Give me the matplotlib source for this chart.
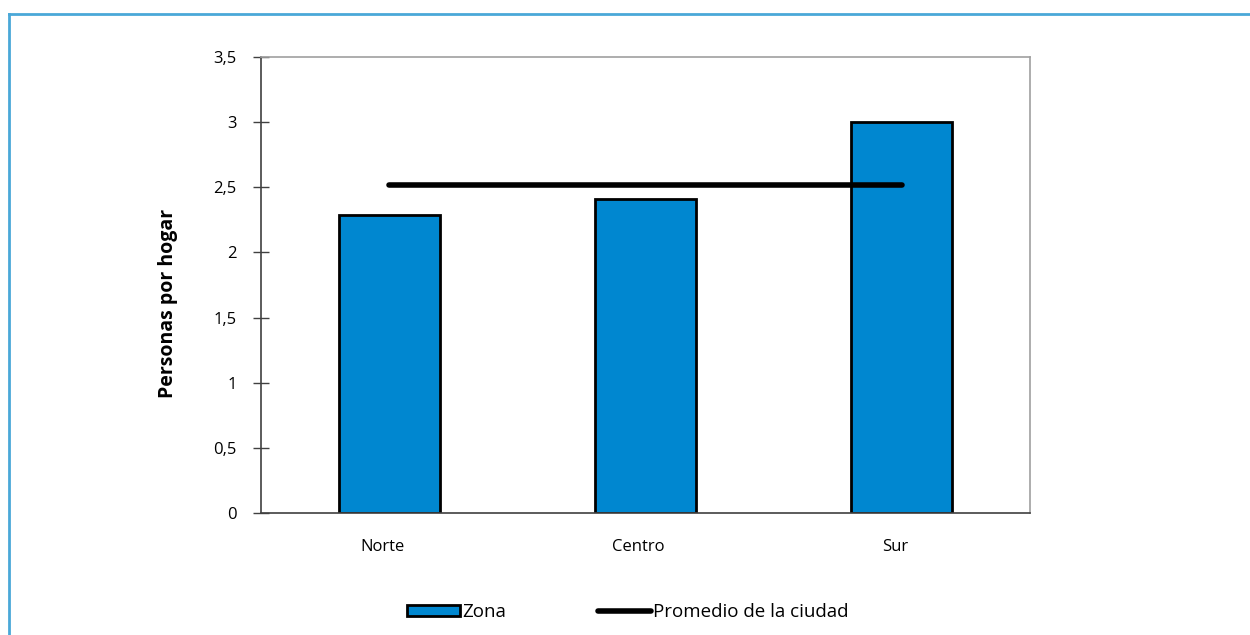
import matplotlib
matplotlib.use('Agg')
import matplotlib.pyplot as plt
import matplotlib.transforms as mtransforms
from matplotlib.lines import Line2D
from matplotlib.patches import Patch

zonas = ['Norte', 'Centro', 'Sur']
personas = [2.29, 2.41, 3.0]
promedio = 2.52
yticks = [0, 0.5, 1, 1.5, 2, 2.5, 3, 3.5]
ytick_labels = ['0', '0,5', '1', '1,5', '2', '2,5', '3', '3,5']

plt.rcParams['font.family'] = ['Open Sans', 'DejaVu Sans']

fig = plt.figure(figsize=(12.5, 6.35), dpi=100)
ax = fig.add_axes([261/1250, 1 - 513/635, 769/1250, 456/635])

x = range(len(zonas))
ax.bar(x, personas, width=0.395, color='#0087d0', edgecolor='black', linewidth=2, zorder=2)
ax.plot([0, len(zonas) - 1], [promedio, promedio], color='black', linewidth=4,
        solid_capstyle='round', zorder=3)

ax.set_xlim(-0.5, 2.5)
ax.set_ylim(0, 3.5)
ax.set_yticks(yticks)
ax.set_yticklabels(ytick_labels, fontsize=12)
ax.set_xticks(list(x))
ax.set_xticklabels(zonas, fontsize=12)
ax.tick_params(axis='x', length=0, pad=19)
ax.tick_params(axis='y', direction='inout', length=11, width=1, color='#404040', pad=12)
# las etiquetas del eje x van un poco a la izquierda del centro de la barra
shift = mtransforms.ScaledTranslation(-7/100, 0, fig.dpi_scale_trans)
for lab in ax.get_xticklabels():
    lab.set_transform(lab.get_transform() + shift)

ax.set_ylabel('Personas por hogar', fontsize=14, fontweight='bold')
ax.yaxis.set_label_coords(-0.108, 0.46)

for s in ['left', 'bottom']:
    ax.spines[s].set_color('#404040')
    ax.spines[s].set_linewidth(1.2)
for s in ['top', 'right']:
    ax.spines[s].set_color('#a0a0a0')
    ax.spines[s].set_linewidth(1.2)

handles = [Patch(facecolor='#0087d0', edgecolor='black', linewidth=2),
           Line2D([0], [0], color='black', linewidth=4, solid_capstyle='round')]
fig.legend(handles, ['Zona', 'Promedio de la ciudad'], loc='center',
           bbox_to_anchor=(628/1250, 1 - 612/635), ncol=2, frameon=False,
           fontsize=13.5, handlelength=2.8, handletextpad=0.15, columnspacing=4.9,
           handleheight=0.5)

# marco azul del recuadro
fig.add_artist(Line2D([9/1250, 9/1250], [0, 1 - 14/635], color='#4aa8d8', linewidth=2,
                      transform=fig.transFigure))
fig.add_artist(Line2D([9/1250, 1], [1 - 14/635, 1 - 14/635], color='#4aa8d8', linewidth=2,
                      transform=fig.transFigure))

fig.savefig('out.png', dpi=100)
